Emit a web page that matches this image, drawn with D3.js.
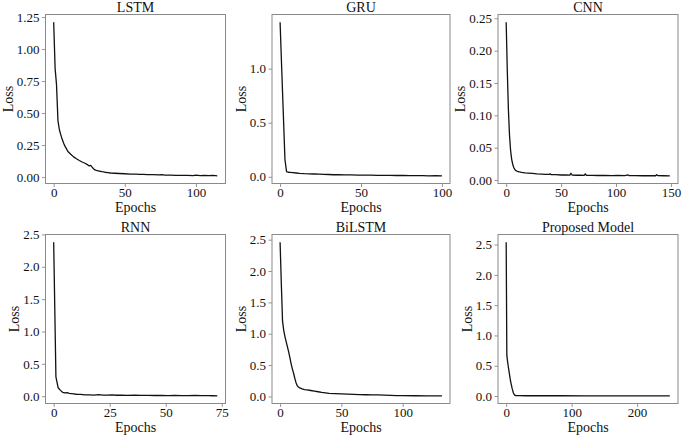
<!DOCTYPE html>
<html>
<head>
<meta charset="utf-8">
<script src="https://cdn.jsdelivr.net/npm/d3@7/dist/d3.min.js"></script>
<style>
  html, body { margin: 0; padding: 0; background: #fff; }
  svg { display: block; }
  text { font-family: "Liberation Serif", "Times New Roman", serif; }
</style>
</head>
<body>
<svg id="chart" width="685" height="438"></svg>
<script>
// ---------------- DATA ----------------
const titles = ["LSTM", "GRU", "CNN", "RNN", "BiLSTM", "Proposed Model"];

const lstmEpochs = [0,1,2,3,4,5,6,7,8,9,10,12,14,16,18,20,22,24,25,26,27,28,29,30,32,34,36,38,40,43,46,50,54,58,60,63,66,70,74,76,78,82,86,90,94,98,100,103,106,109,112,115];
const lstmLoss   = [1.21,0.85,0.72,0.44,0.37,0.33,0.295,0.265,0.24,0.22,0.2,0.178,0.158,0.143,0.13,0.118,0.108,0.095,0.088,0.092,0.078,0.065,0.056,0.052,0.047,0.042,0.038,0.035,0.032,0.03,0.028,0.026,0.024,0.023,0.021,0.022,0.019,0.019,0.017,0.02,0.016,0.016,0.014,0.013,0.014,0.012,0.015,0.012,0.013,0.011,0.013,0.01];

const gruEpochs = [0,1,2,3,4,5,6,8,10,12,15,18,21,24,27,30,33,36,40,44,48,52,56,60,64,68,72,76,80,84,88,92,96,100];
const gruLoss   = [1.43,1.0,0.58,0.16,0.048,0.042,0.041,0.038,0.035,0.032,0.029,0.027,0.026,0.024,0.023,0.021,0.019,0.02,0.018,0.017,0.016,0.015,0.016,0.014,0.013,0.014,0.012,0.013,0.011,0.01,0.011,0.009,0.01,0.009];

const cnnEpochs = [0,1,2,3,4,5,6,7,8,9,10,12,14,17,20,24,28,32,36,39,40,41,45,50,54,58,59,60,64,68,71,72,73,78,84,90,96,102,108,111,112,118,124,130,136,137,138,143,149];
const cnnLoss   = [0.244,0.17,0.11,0.07,0.046,0.032,0.024,0.019,0.016,0.0145,0.0135,0.0125,0.0118,0.0112,0.0108,0.0102,0.0096,0.0092,0.0088,0.0086,0.0095,0.0084,0.0082,0.0078,0.008,0.0076,0.0105,0.0078,0.0074,0.0076,0.0072,0.0095,0.0074,0.0072,0.007,0.0072,0.0068,0.007,0.0068,0.0078,0.0068,0.0068,0.0066,0.0068,0.0066,0.0082,0.0068,0.0066,0.0065];

const rnnEpochs = [0,1,2,3,4,5,6,7,8,9,10,12,14,16,18,20,22,24,26,28,30,33,36,39,42,45,48,51,54,57,60,63,66,69,71,73];
const rnnLoss   = [2.38,0.3,0.13,0.09,0.06,0.05,0.055,0.045,0.04,0.035,0.03,0.028,0.022,0.02,0.018,0.025,0.018,0.016,0.02,0.015,0.018,0.014,0.016,0.012,0.014,0.011,0.013,0.01,0.012,0.009,0.01,0.012,0.008,0.009,0.007,0.006];

const bilstmEpochs = [0,1,2,3,4,5,6,7,8,9,10,11,12,13,14,15,16,18,20,22,25,28,31,34,37,40,45,50,55,60,65,70,75,80,85,90,95,100,110,120,132];
const bilstmLoss   = [2.46,1.8,1.2,1.05,0.95,0.87,0.79,0.71,0.62,0.52,0.44,0.37,0.29,0.22,0.17,0.15,0.135,0.12,0.11,0.105,0.095,0.085,0.075,0.065,0.057,0.05,0.044,0.04,0.036,0.033,0.03,0.027,0.025,0.024,0.02,0.016,0.013,0.012,0.011,0.01,0.01];

const propEpochs = [0,1,2,3,4,5,6,7,8,9,10,11,12,13,14,16,20,30,50,80,120,160,200,250];
const propLoss   = [2.54,0.67,0.58,0.5,0.43,0.36,0.29,0.23,0.18,0.13,0.09,0.05,0.03,0.015,0.008,0.006,0.005,0.004,0.004,0.004,0.003,0.003,0.003,0.003];

const xTickSets = [[0,50,100],[0,50,100],[0,50,100,150],[0,25,50,75],[0,50,100],[0,100,200]];
const yTickSets = [
  [0,0.25,0.5,0.75,1.0,1.25],
  [0,0.5,1.0],
  [0,0.05,0.1,0.15,0.2,0.25],
  [0,0.5,1.0,1.5,2.0,2.5],
  [0,0.5,1.0,1.5,2.0,2.5],
  [0,0.5,1.0,1.5,2.0,2.5]
];
const yTickFormats = [".2f", ".1f", ".2f", ".1f", ".1f", ".1f"];

const epochSets = [lstmEpochs, gruEpochs, cnnEpochs, rnnEpochs, bilstmEpochs, propEpochs];
const lossSets  = [lstmLoss, gruLoss, cnnLoss, rnnLoss, bilstmLoss, propLoss];

// ---------------- LAYOUT ----------------
const colX = [[45.5, 225.5], [272, 450], [498, 678]];
const rowY = [[14.5, 183.5], [234.5, 403.5]];
const frameColor = "#8a8a8a";
const textColor = "#111";

const svg = d3.select("#chart");

function padDomain(ext) {
  const r = ext[1] - ext[0];
  return [ext[0] - 0.05 * r, ext[1] + 0.05 * r];
}

titles.forEach((title, i) => {
  const col = i % 3, row = Math.floor(i / 3);
  const [x0, x1] = colX[col];
  const [y0, y1] = rowY[row];
  const epochs = epochSets[i], loss = lossSets[i];

  const x = d3.scaleLinear().domain(padDomain(d3.extent(epochs))).range([x0, x1]);
  const y = d3.scaleLinear().domain(padDomain(d3.extent(loss))).range([y1, y0]);

  const g = svg.append("g");

  const pts = epochs.map((e, k) => [e, loss[k]]);
  g.append("path")
    .datum(pts)
    .attr("fill", "none")
    .attr("stroke", "#111")
    .attr("stroke-width", 1.3)
    .attr("stroke-linejoin", "round")
    .attr("d", d3.line().x(d => x(d[0])).y(d => y(d[1])));

  const xAxis = g.append("g")
    .attr("transform", `translate(0,${y1})`)
    .call(d3.axisBottom(x).tickValues(xTickSets[i]).tickFormat(d3.format("d")).tickSizeOuter(0).tickSize(3.5).tickPadding(1));
  const yAxis = g.append("g")
    .attr("transform", `translate(${x0},0)`)
    .call(d3.axisLeft(y).tickValues(yTickSets[i]).tickFormat(d3.format(yTickFormats[i])).tickSizeOuter(0).tickSize(3.5).tickPadding(2.5));

  [xAxis, yAxis].forEach(a => {
    a.select(".domain").remove();
    a.selectAll(".tick line").attr("stroke", frameColor).attr("stroke-width", 0.9);
    a.selectAll(".tick text").attr("fill", textColor).style("font-size", "13px")
      .style("font-family", '"Liberation Serif", "Times New Roman", serif');
  });

  g.append("rect")
    .attr("x", x0).attr("y", y0)
    .attr("width", x1 - x0).attr("height", y1 - y0)
    .attr("fill", "none")
    .attr("stroke", frameColor)
    .attr("stroke-width", 1);

  g.append("text")
    .attr("x", (x0 + x1) / 2).attr("y", y0 - 2.5)
    .attr("text-anchor", "middle")
    .attr("fill", textColor)
    .style("font-size", "14px")
    .text(title);

  g.append("text")
    .attr("x", (x0 + x1) / 2).attr("y", y1 + 28)
    .attr("text-anchor", "middle")
    .attr("fill", textColor)
    .style("font-size", "14px")
    .text("Epochs");

  let minLeft = x0;
  yAxis.selectAll(".tick text").each(function () {
    const b = this.getBBox();
    const ctm = this.getCTM();
    const left = b.x + ctm.e;
    if (left < minLeft) minLeft = left;
  });
  const lx = minLeft - 4;
  const ly = (y0 + y1) / 2;
  g.append("text")
    .attr("transform", `translate(${lx},${ly}) rotate(-90)`)
    .attr("text-anchor", "middle")
    .attr("fill", textColor)
    .style("font-size", "14px")
    .text("Loss");
});
</script>
</body>
</html>
